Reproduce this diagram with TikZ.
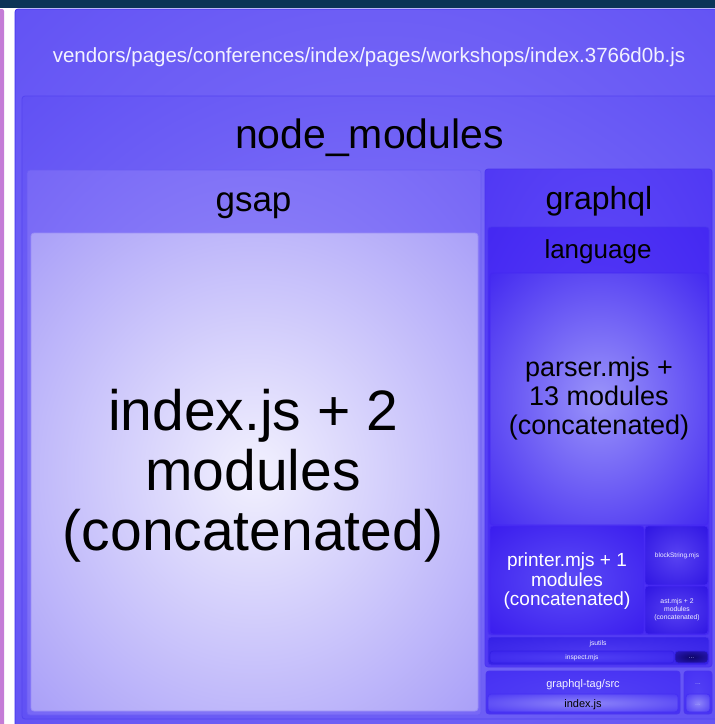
\documentclass[tikz,border=0pt]{standalone}
\usepackage{fontspec}
\setmainfont{Liberation Sans}
\definecolor{topbar}{HTML}{0B3457}
\definecolor{sidebar}{HTML}{C47CD6}
\definecolor{vendin}{HTML}{8578F8}
\definecolor{vendout}{HTML}{6252F4}
\definecolor{vendline}{HTML}{3E30EE}
\definecolor{nmin}{HTML}{8A7EF8}
\definecolor{nmout}{HTML}{6050F4}
\definecolor{nmline}{HTML}{5444F0}
\definecolor{gsapin}{HTML}{9A90F9}
\definecolor{gsapout}{HTML}{7666F6}
\definecolor{gsapline}{HTML}{6A5CF4}
\definecolor{gidxin}{HTML}{F2F1FE}
\definecolor{gidxout}{HTML}{A89EF8}
\definecolor{gidxline}{HTML}{9A8EF6}
\definecolor{gqlin}{HTML}{6450F6}
\definecolor{gqlout}{HTML}{5038F4}
\definecolor{gqlline}{HTML}{4A34F0}
\definecolor{langin}{HTML}{5A40F6}
\definecolor{langout}{HTML}{4428F2}
\definecolor{parin}{HTML}{9A94FA}
\definecolor{parout}{HTML}{4228F0}
\definecolor{prnin}{HTML}{5C4CF6}
\definecolor{prnout}{HTML}{3A1CEE}
\definecolor{blkin}{HTML}{5842F2}
\definecolor{blkout}{HTML}{2E14E2}
\definecolor{jsuin}{HTML}{4C38F0}
\definecolor{jsuout}{HTML}{3420E6}
\definecolor{insin}{HTML}{5040F4}
\definecolor{insout}{HTML}{3A24EC}
\definecolor{dotin}{HTML}{0E0668}
\definecolor{dotout}{HTML}{2A18C0}
\definecolor{gtin}{HTML}{5240F5}
\definecolor{gtout}{HTML}{4630F3}
\definecolor{gtxin}{HTML}{8E86F9}
\definecolor{gtxout}{HTML}{4C38F4}
\definecolor{paletext}{HTML}{F2F2FF}
\colorlet{glowin}{white}
\colorlet{glowout}{black}
\pgfdeclareradialshading[glowin,glowout]{cellglow}{\pgfpoint{0bp}{0bp}}{color(0bp)=(glowin); color(36bp)=(glowout); color(50bp)=(glowout)}
\begin{document}
\begin{tikzpicture}[x=1pt,y=-1pt,
    cell/.style n args={3}{/utils/exec={\colorlet{glowin}{#1}\colorlet{glowout}{#2}},
      shade, shading=cellglow, draw=#3, line width=0.8pt, rounded corners=3pt},
    lbl/.style={inner sep=0pt, align=center, text=black}]
        \useasboundingbox (0,0) rectangle (715,724);
        \clip (0,0) rectangle (715,724);
        \fill[white] (0,0) rectangle (715,724);
        \fill[topbar] (0,0) rectangle (715,7.5);
        \fill[sidebar, rounded corners=2pt] (-4,9) rectangle (4,740);

        \path[cell={vendin}{vendout}{vendline}] (15,9) rectangle (740,740);
        \path[cell={nmin}{nmout}{nmline}] (22,96) rectangle (730,719);
        \path[cell={gsapin}{gsapout}{gsapline}] (27,170) rectangle (481,715);
        \path[cell={gidxin}{gidxout}{gidxline}] (31,233) rectangle (478,711);
        \path[cell={gqlin}{gqlout}{gqlline}] (485,169) rectangle (712,667);
        \path[cell={langin}{langout}{gqlline}] (488,227) rectangle (709,635);
        \path[cell={parin}{parout}{langout}] (490,273) rectangle (708,525);
        \path[cell={prnin}{prnout}{langout}] (490,526) rectangle (644,634);
        \path[cell={blkin}{blkout}{langout}] (645,526) rectangle (708,585);
        \path[cell={blkin}{blkout}{langout}] (645,586) rectangle (708,634);
        \path[cell={jsuin}{jsuout}{gqlline}] (488,637) rectangle (709,665);
        \path[cell={insin}{insout}{jsuout}] (490,651) rectangle (674,663);
        \path[cell={dotin}{dotout}{jsuout}] (675,651) rectangle (708,663);
        \path[cell={gtin}{gtout}{gqlline}] (486,671) rectangle (680,714);
        \path[cell={gtxin}{gtxout}{gtout}] (488,694) rectangle (678,712);
        \path[cell={gtin}{gtout}{gqlline}] (684,671) rectangle (712,714);
        \path[cell={gtxin}{gtxout}{gtout}] (686,694) rectangle (710,712);

        \node[lbl, anchor=base, text=paletext, font=\fontsize{20.5}{22}\selectfont] (vendors) at (369,62) {vendors/pages/conferences/index/pages/workshops/index.3766d0b.js};
        \node[lbl, anchor=base, font=\fontsize{41}{44}\selectfont] (nodemods) at (369.5,148) {node\_modules};
        \node[lbl, anchor=base, font=\fontsize{35}{38}\selectfont] (gsap) at (253.5,211) {gsap};
        \node[lbl, font=\fontsize{57}{60}\selectfont] (gsapidx) at (253,476) {index.js + 2\\modules\\(concatenated)};
        \node[lbl, anchor=base, font=\fontsize{32}{34}\selectfont] (graphql) at (599,209) {graphql};
        \node[lbl, anchor=base, font=\fontsize{26}{28}\selectfont] (language) at (598,258) {language};
        \node[lbl, font=\fontsize{27}{29}\selectfont] (parser) at (599,399) {parser.mjs +\\13 modules\\(concatenated)};
        \node[lbl, text=white, font=\fontsize{19}{19.5}\selectfont] (printer) at (567,581.5) {printer.mjs + 1\\modules\\(concatenated)};
        \node[lbl, anchor=base, text=paletext, font=\fontsize{6.5}{7}\selectfont] (blockstr) at (677,557) {blockString.mjs};
        \node[lbl, text=paletext, font=\fontsize{6.8}{8}\selectfont] (ast) at (677,610) {ast.mjs + 2\\modules\\(concatenated)};
        \node[lbl, anchor=base, text=paletext, font=\fontsize{6.8}{7}\selectfont] (jsutils) at (598,645.5) {jsutils};
        \node[lbl, anchor=base, text=paletext, font=\fontsize{6.6}{7}\selectfont] (inspect) at (582,659) {inspect.mjs};
        \node[lbl, anchor=base, text=paletext!70!blue, font=\fontsize{6.6}{7}\selectfont] (jsudots) at (691.5,658) {...};
        \node[lbl, anchor=base, text=paletext, font=\fontsize{11}{12}\selectfont] (gqltag) at (583,687) {graphql-tag/src};
        \node[lbl, anchor=base, font=\fontsize{11}{12}\selectfont] (gqltagidx) at (583,707) {index.js};
        \node[lbl, anchor=base, text=paletext!70!blue, font=\fontsize{7}{8}\selectfont] (restdots) at (698,684) {...};
        \node[lbl, anchor=base, text=paletext!70!blue, font=\fontsize{7}{8}\selectfont] (restinner) at (698,705) {...};
    \end{tikzpicture}
\end{document}
